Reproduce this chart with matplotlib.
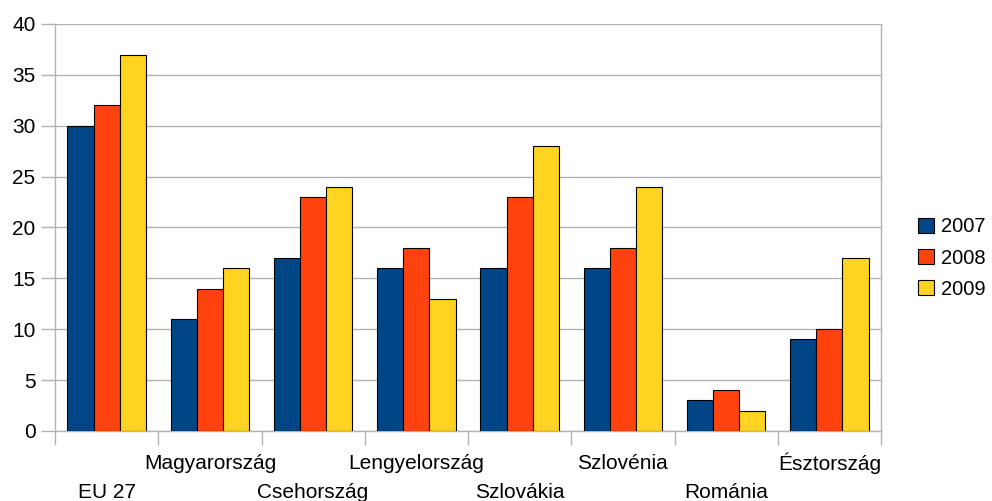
import numpy as np
import matplotlib.pyplot as plt
from matplotlib.patches import Patch

categories = ["EU 27", "Magyarország", "Csehország", "Lengyelország",
              "Szlovákia", "Szlovénia", "Románia", "Észtország"]
years = ["2007", "2008", "2009"]
v2007 = [30, 11, 17, 16, 16, 16, 3, 9]
v2008 = [32, 14, 23, 18, 23, 18, 4, 10]
v2009 = [37, 16, 24, 13, 28, 24, 2, 17]
series = [v2007, v2008, v2009]
colors = ["#004586", "#ff420e", "#ffd320"]

plt.rcParams["font.family"] = ["Liberation Sans", "DejaVu Sans"]

fig = plt.figure(figsize=(9.92, 5.01), dpi=100)
ax = fig.add_axes([55 / 992, 70 / 501, 826 / 992, 407 / 501])

n = len(categories)
x = np.arange(n)
width = 0.254
for i, (vals, c, yr) in enumerate(zip(series, colors, years)):
    ax.bar(x + (i - 1) * width, vals, width, color=c, edgecolor="black",
           linewidth=0.8, label=yr, zorder=3)

ax.set_xlim(-0.5, n - 0.5)
ax.set_ylim(0, 40)
ax.set_yticks(range(0, 41, 5))
ax.yaxis.grid(True, color="#b3b3b3", linewidth=1, zorder=0)

# group separators as ticks, labels staggered on two rows
ax.set_xticks(np.arange(n + 1) - 0.5)
ax.set_xticklabels([])
ax.tick_params(axis="x", length=10, color="#b3b3b3", width=1)
ax.tick_params(axis="y", length=10, color="#b3b3b3", width=1, labelsize=15, pad=4)
for i, cat in enumerate(categories):
    yoff = -0.08 if i % 2 else -0.152
    ax.text(x[i], yoff, cat, transform=ax.get_xaxis_transform(),
            ha="center", va="center", fontsize=15)

ax.spines["top"].set_visible(False)
for side in ["left", "right", "bottom"]:
    ax.spines[side].set_color("#b3b3b3")
    ax.spines[side].set_linewidth(1)

handles = [Patch(facecolor=c, edgecolor="black", linewidth=0.8, label=yr)
           for c, yr in zip(colors, years)]
fig.legend(handles=handles, loc="center left",
           bbox_to_anchor=(918 / 992, (501 - 258) / 501),
           frameon=False, fontsize=14.5, handlelength=0.8, handleheight=0.8,
           handletextpad=0.35, labelspacing=0.6, borderaxespad=0, borderpad=0)

fig.savefig("out.png", dpi=100)
